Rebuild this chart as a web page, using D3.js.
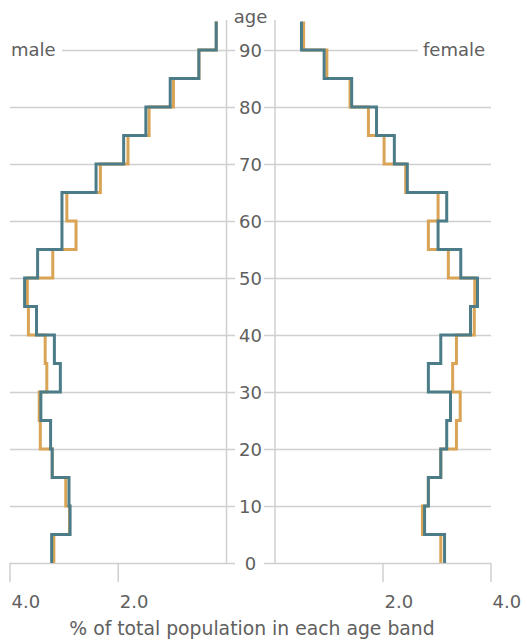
<!DOCTYPE html>
<html><head><meta charset="utf-8">
<script src="https://cdn.jsdelivr.net/npm/d3@7"></script>
<style>body{margin:0;background:#fff}svg{display:block}</style>
</head><body><svg id="c" width="527" height="641"></svg>
<script>
// 5-year age bands (lower bound), last band 90-95
const ageBands = [0,5,10,15,20,25,30,35,40,45,50,55,60,65,70,75,80,85,90];
// % of total population in each age band
const maleOrange   = [3.19,2.90,2.97,3.22,3.44,3.46,3.32,3.35,3.66,3.68,3.21,2.78,2.95,2.33,1.82,1.43,0.98,0.51,0.19];
const maleTeal     = [3.23,2.89,2.91,3.22,3.25,3.43,3.07,3.18,3.51,3.73,3.49,3.04,3.04,2.41,1.90,1.49,1.04,0.51,0.19];
const femaleOrange = [3.07,2.73,2.84,3.07,3.36,3.43,3.29,3.36,3.69,3.70,3.21,2.84,3.02,2.42,2.02,1.73,1.39,0.96,0.53];
const femaleTeal   = [3.14,2.77,2.84,3.07,3.18,3.25,2.84,3.07,3.62,3.75,3.44,3.02,3.18,2.45,2.21,1.88,1.42,0.91,0.49];
const ageTicks = [0,10,20,30,40,50,60,70,80,90];
const popTicks = [2.0,4.0];
const bandWidth = 5;

const svg = d3.select("#c");
const FONT = "DejaVu Sans";
const FS = 18;
const textColor = "#606060";
const gridColor = "#cfcfcf";
const orange = "#d9a455";
const teal = "#4b7c88";

const y = d3.scaleLinear().domain([0,95]).range([563,21.5]);
const xM = d3.scaleLinear().domain([0,4]).range([226.5,10]);
const xF = d3.scaleLinear().domain([0,4]).range([275,491]);

const g = svg.append("g");

// gridlines
ageTicks.forEach(a => {
  const yy = Math.round(y(a)) + 0.5;
  const leftStart = a === 90 ? 62 : xM(4);
  const rightEnd = a === 90 ? 418 : xF(4);
  g.append("line").attr("x1", leftStart).attr("x2", 235).attr("y1", yy).attr("y2", yy)
    .attr("stroke", gridColor).attr("stroke-width", 1.5);
  g.append("line").attr("x1", 264).attr("x2", rightEnd).attr("y1", yy).attr("y2", yy)
    .attr("stroke", gridColor).attr("stroke-width", 1.5);
  g.append("text").attr("x", 250.5).attr("y", yy).attr("dy", "0.36em")
    .attr("text-anchor", "middle").attr("font-family", FONT).attr("font-size", FS)
    .attr("fill", textColor).text(a);
});

// vertical axis lines
[xM(0), xF(0)].forEach(x => {
  g.append("line").attr("x1", x).attr("x2", x).attr("y1", y(95) - 1.5).attr("y2", Math.round(y(0)) + 0.5)
    .attr("stroke", gridColor).attr("stroke-width", 1.5);
});

// bottom ticks and labels
const tickBottom = 582;
popTicks.forEach(v => {
  [xM(v), xF(v)].forEach(x => {
    g.append("line").attr("x1", x).attr("x2", x).attr("y1", Math.round(y(0))).attr("y2", tickBottom)
      .attr("stroke", gridColor).attr("stroke-width", 1.5);
    g.append("text").attr("x", x + 1.5).attr("y", 608)
      .attr("font-family", FONT).attr("font-size", FS).attr("fill", textColor)
      .text(d3.format(".1f")(v));
  });
});

// labels
g.append("text").attr("x", 250.5).attr("y", 23).attr("text-anchor", "middle")
  .attr("font-family", FONT).attr("font-size", FS).attr("fill", textColor).text("age");
g.append("text").attr("x", 11).attr("y", y(90)).attr("dy", "0.36em")
  .attr("font-family", FONT).attr("font-size", FS).attr("fill", textColor).text("male");
g.append("text").attr("x", 423).attr("y", y(90)).attr("dy", "0.36em")
  .attr("font-family", FONT).attr("font-size", FS).attr("fill", textColor).text("female");
g.append("text").attr("x", 252).attr("y", 635).attr("text-anchor", "middle")
  .attr("font-family", FONT).attr("font-size", 18.8).attr("fill", textColor)
  .text("% of total population in each age band");

// step lines
function stepPoints(values) {
  const pts = [];
  values.forEach((v, i) => {
    pts.push([v, ageBands[i]]);
    pts.push([v, ageBands[i] + bandWidth]);
  });
  return pts;
}
function drawStep(values, xs, color) {
  const line = d3.line().x(d => xs(d[0])).y(d => y(d[1]));
  g.append("path").attr("d", line(stepPoints(values)))
    .attr("fill", "none").attr("stroke", color).attr("stroke-width", 3)
    .attr("stroke-linejoin", "miter").attr("stroke-linecap", "butt");
}
drawStep(maleOrange, xM, orange);
drawStep(femaleOrange, xF, orange);
drawStep(maleTeal, xM, teal);
drawStep(femaleTeal, xF, teal);
</script>
</body></html>
